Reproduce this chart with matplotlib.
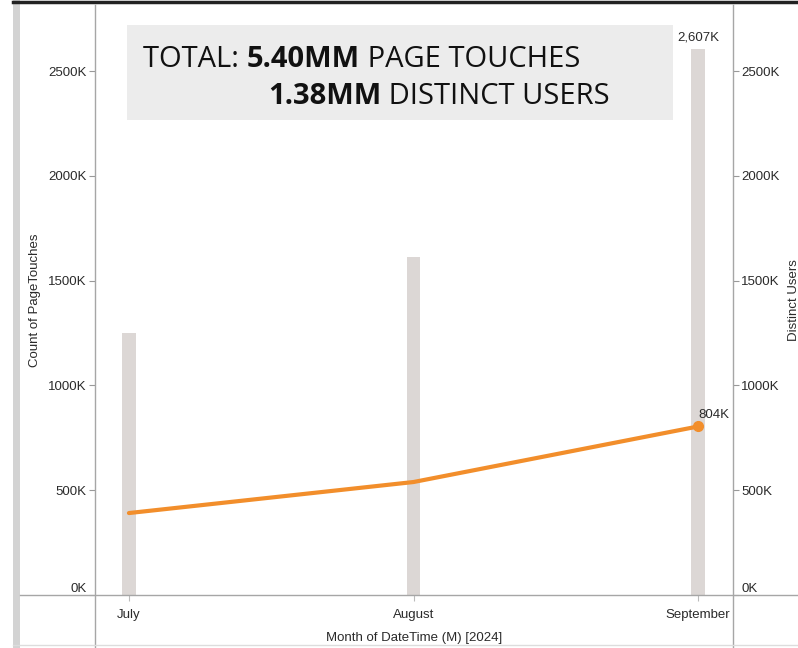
import matplotlib
matplotlib.use("Agg")
import matplotlib.pyplot as plt
from matplotlib.lines import Line2D
from matplotlib.patches import Rectangle

months = ["July", "August", "September"]
page_touches_k = [1250, 1612, 2607]
distinct_users_k = [391, 539, 804]
yticks_k = [0, 500, 1000, 1500, 2000, 2500]

W, H = 798, 648
fig = plt.figure(figsize=(W / 100, H / 100), dpi=100)
fig.patch.set_facecolor("white")

def fx(px):
    return px / W

def fy(py):
    return 1 - py / H

ax_l, ax_r, ax_b, ax_t = 95, 733, 595, 5
ax = fig.add_axes([fx(ax_l), fy(ax_b), fx(ax_r) - fx(ax_l), fy(ax_t) - fy(ax_b)])
ax.set_facecolor("none")

x = list(range(len(months)))
ppk = 0.2096  # pixels per K
ymax = (ax_b - ax_t) / ppk
ax.set_ylim(0, ymax)
xl = -(129 - ax_l) / 285
xr = 2 + (ax_r - 698) / 285
ax.set_xlim(xl, xr)

bar_w = 14 / 285
ax.bar(x, page_touches_k, width=bar_w, color="#dcd7d5", zorder=1)
ax.plot(x, distinct_users_k, color="#f28e2b", lw=3, solid_capstyle="round", zorder=3)
ax.plot([x[-1]], [distinct_users_k[-1]], "o", color="#f28e2b", ms=7, zorder=4)

lab_font = "Liberation Sans"
tfs = 9.5
tc = "#2a2a2a"
ax.text(x[-1], page_touches_k[-1] + 25, f"{page_touches_k[-1]:,}K", ha="center", va="bottom",
        fontsize=tfs, family=lab_font, color=tc)
ax.text(x[-1] + 0.0, distinct_users_k[-1] + 25, f"{distinct_users_k[-1]}K", ha="left", va="bottom",
        fontsize=tfs, family=lab_font, color=tc)

for s in ax.spines.values():
    s.set_visible(False)

ax.set_yticks(yticks_k)
ax.set_yticklabels([f"{v}K" for v in yticks_k], family=lab_font, fontsize=tfs, color=tc)
ax.tick_params(axis="y", length=4, width=0.8, color="#999999", pad=2)
ax.set_xticks(x)
ax.set_xticklabels(months, family=lab_font, fontsize=tfs, color=tc)
ax.tick_params(axis="x", length=4, width=0.8, color="#bbbbbb", pad=6)
ax.set_ylabel("Count of PageTouches", family=lab_font, fontsize=tfs, color=tc, labelpad=5)
ax.set_xlabel("Month of DateTime (M) [2024]", family=lab_font, fontsize=tfs, color=tc, labelpad=8)

ax2 = ax.twinx()
ax2.set_ylim(0, ymax)
for s in ax2.spines.values():
    s.set_visible(False)
ax2.set_yticks(yticks_k)
ax2.set_yticklabels([f"{v}K" for v in yticks_k], family=lab_font, fontsize=tfs, color=tc)
ax2.tick_params(axis="y", length=4, width=0.8, color="#999999", pad=2)
ax2.set_ylabel("Distinct Users", family=lab_font, fontsize=tfs, color=tc, labelpad=6)

for lbl in (ax.get_yticklabels()[0], ax2.get_yticklabels()[0]):
    lbl.set_va("bottom")

# frame lines
lc = "#a6a6a6"
fig.add_artist(Line2D([fx(20), 1], [fy(595), fy(595)], color=lc, lw=1))
fig.add_artist(Line2D([fx(95), fx(95)], [fy(5), 0], color=lc, lw=1))
fig.add_artist(Line2D([fx(733), fx(733)], [fy(5), 0], color=lc, lw=1))
fig.add_artist(Rectangle((fx(13), 0), fx(7), 1, color="#d3d3d3", lw=0))
fig.add_artist(Line2D([fx(13), 1], [fy(1.5), fy(1.5)], color="#222222", lw=2.5))
fig.add_artist(Line2D([fx(13), 1], [fy(645), fy(645)], color="#dddddd", lw=1))

# total box
fig.add_artist(Rectangle((fx(127), fy(120)), fx(673) - fx(127), fy(25) - fy(120),
                         color="#ececec", lw=0, zorder=-1))
tf = "Open Sans"
fs = 21
t1 = fig.text(fx(143), fy(67), "TOTAL: ", family=tf, fontsize=fs, va="baseline",
              color="#111111", zorder=10)
t2 = ax.annotate("5.40MM", xy=(1, 0), xycoords=t1, va="bottom", ha="left",
                 family=tf, fontsize=fs, fontweight="bold", color="#111111", zorder=10)
t3 = ax.annotate(" PAGE TOUCHES", xy=(1, 0), xycoords=t2, va="bottom", ha="left",
                 family=tf, fontsize=fs, color="#111111", zorder=10)
t4 = fig.text(fx(268), fy(104), "1.38MM", family=tf, fontsize=fs, fontweight="bold",
              va="baseline", color="#111111", zorder=10)
t5 = ax.annotate(" DISTINCT USERS", xy=(1, 0), xycoords=t4, va="bottom", ha="left",
                 family=tf, fontsize=fs, color="#111111", zorder=10)

fig.savefig("out.png", dpi=100)
